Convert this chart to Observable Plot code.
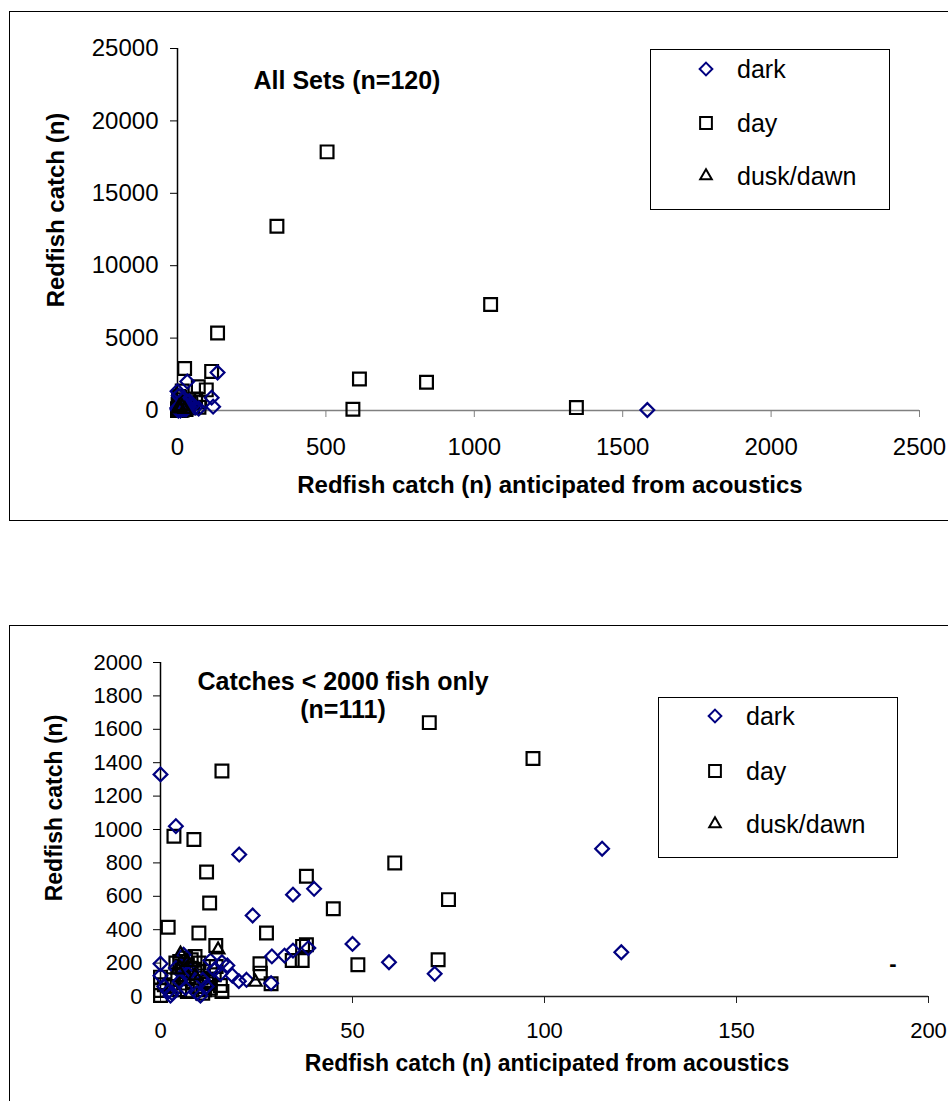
<!DOCTYPE html>
<html><head><meta charset="utf-8">
<script src="https://cdn.jsdelivr.net/npm/d3@7"></script>
<script src="https://cdn.jsdelivr.net/npm/@observablehq/plot@0.6"></script>
<style>
body{margin:0;width:948px;height:1101px;overflow:hidden;background:#fff;position:relative;font-family:"Liberation Sans",Arial,sans-serif;}
.frame{position:absolute;border:1.5px solid #000;box-sizing:border-box;}
.chart{position:absolute;left:0;}
.legend{position:absolute;border:1.2px solid #000;background:#fff;box-sizing:border-box;}
.legend .row{position:absolute;left:0;height:30px;line-height:30px;font-size:25px;color:#000;}
.legend .row svg{position:absolute;top:0;}
</style></head>
<body>
<div class="frame" style="left:9px;top:11px;width:980px;height:510px;"></div>
<div class="frame" style="left:9px;top:625px;width:980px;height:520px;"></div>
<div id="top" class="chart" style="top:0px;"></div>
<div id="bottom" class="chart" style="top:600px;"></div>
<script>
// ---- data: [anticipated from acoustics, catch] ----
const dark = [
  [0,1330],[4,1020],[20.5,850],[40,645],[34.5,610],[24,485],[38.5,290],[34.5,275],[32.3,245],[29,240],
  [17.4,186],[22.4,100],[20.4,92],[18.7,126],[0,196],[2.6,5],[28.8,80],[115,885],[50,315],[59.5,205],
  [71.4,136],[120,265],[1583,35],
  [0,125],[1,60],[2,30],[3,20],[4,170],[5,90],[6.5,50],[8,150],[9.5,20],[10.4,5],[11,100],[13,215],
  [16,205],[15.6,136],[12,60],[7,140],[14,160],[6,250],
  [135,2620],[33,2000]
];
const day = [
  [16,1350],[3.5,960],[8.7,940],[12,745],[38,720],[12.8,560],[45,525],[2,415],[10,380],[27.6,380],
  [14.4,305],[38,310],[37,300],[34.3,216],[36.9,216],[25.9,196],[26,140],[28.8,76],[0,6],[0,116],
  [70,1640],[97,1425],[61,800],[75,580],[51.4,190],[72.3,220],[591,80],[1344,200],[839,1950],
  [4,200],[5,210],[5.5,180],[6,150],[6.5,230],[7,190],[7.5,120],[8,170],[8.5,90],[9,140],
  [9.5,60],[10,200],[10.5,110],[11,150],[11.5,40],[12,90],[12.6,76],[13,180],[14,130],[15.6,66],
  [16,30],[3,100],[3.5,60],[4.5,130],[5,40],[6,80],[7,30],[8,220],[9,240],[0,36],
  [1,70],[11,20],[13,50],[14.5,180],[6,110],
  [504,17860],[335,12730],[1055,7320],[135,5350],[24,2900],[115,2700],[613,2180]
];
const dusk = [[15,280],[24.7,86],[5.2,255],[7,205],[4.5,160],[9,125]];

const seriesNames = ["dark","day","dusk/dawn"];
const topXTicks = [0,500,1000,1500,2000,2500];
const topYTicks = [0,5000,10000,15000,20000,25000];
const botXTicks = [0,50,100,150,200];
const botYTicks = [0,200,400,600,800,1000,1200,1400,1600,1800,2000];
const xTitle = "Redfish catch (n) anticipated from acoustics";
const yTitle = "Redfish catch (n)";
const topTitle = ["All Sets (n=120)"];
const botTitle = ["Catches < 2000 fish only","(n=111)"];

const styleOf = {
  "dark": {symbol:"diamond2", d3sym: d3.symbolDiamond2, stroke:"#000080", r:6.2},
  "day": {symbol:"square", d3sym: d3.symbolSquare, stroke:"#000", r:7.2},
  "dusk/dawn": {symbol:"triangle2", d3sym: d3.symbolTriangle2, stroke:"#000", r:6.0}
};
const toRows = (arr, s) => arr.map(([x,y]) => ({x, y, s}));
const rows = [...toRows(dark,"dark"), ...toRows(day,"day"), ...toRows(dusk,"dusk/dawn")];

function dots(data){
  return ["day","dark","dusk/dawn"].map(s => Plot.dot(data.filter(d => d.s === s), {
    x:"x", y:"y", symbol: styleOf[s].symbol, r: styleOf[s].r, stroke: styleOf[s].stroke,
    strokeWidth: 2.2, fill: "none"
  }));
}

function build(opts){
  const p = Plot.plot({
    width: 948, height: opts.height,
    marginLeft: opts.ml, marginRight: opts.mr, marginTop: opts.mt, marginBottom: opts.mb,
    style: {fontFamily: '"Liberation Sans", Arial, sans-serif', fontSize: opts.fs + "px", color: "#000", background: "transparent", overflow: "visible"},
    x: {domain: opts.xd, label: null},
    y: {domain: opts.yd, label: null},
    marks: [
      Plot.axisY({ticks: opts.yt, tickSize: 7, tickPadding: opts.ytp, tickFormat: d3.format("d"), label: null}),
      Plot.axisX({ticks: opts.xt, tickSize: 7, tickPadding: opts.xtp, tickFormat: d3.format("d"), label: null, stroke: opts.xAxisColor}),
      Plot.ruleY([0], {stroke: opts.xAxisColor, strokeWidth: 1.5}),
      Plot.ruleX([0], {stroke: "#000", strokeWidth: 1.5}),
      ...dots(opts.data)
    ]
  });
  const svg = d3.select(p);
  svg.append("text").attr("x", opts.xtx).attr("y", opts.xty).attr("text-anchor","middle")
    .attr("font-weight","bold").attr("font-size", opts.tfs).attr("fill","#000").text(xTitle);
  svg.append("text").attr("transform", `translate(${opts.ytx},${opts.yty}) rotate(-90)`).attr("text-anchor","middle")
    .attr("font-weight","bold").attr("font-size", opts.tfs).attr("fill","#000").text(yTitle);
  opts.title.forEach((t,i) => {
    svg.append("text").attr("x", opts.tx).attr("y", opts.ty[i]).attr("text-anchor","middle")
      .attr("font-weight","bold").attr("font-size", opts.hfs).attr("fill","#000").text(t);
  });
  return p;
}

function legend(container, left, top, rowsY, mx, tx){
  const box = document.createElement("div");
  box.className = "legend";
  box.style.cssText = `left:${left}px;top:${top}px;width:240px;height:161px;`;
  seriesNames.forEach((s,i) => {
    const row = document.createElement("div");
    row.className = "row";
    row.style.top = (rowsY[i] - 15) + "px";
    row.style.width = "238px";
    const st = styleOf[s];
    const sym = d3.symbol(st.d3sym, Math.PI * st.r * st.r * 0.85)();
    row.innerHTML = `<svg width="30" height="30" style="left:${mx-15}px"><path d="${sym}" transform="translate(15,15)" fill="none" stroke="${st.stroke}" stroke-width="2"/></svg><span style="position:absolute;left:${tx}px;white-space:nowrap">${s}</span>`;
    box.appendChild(row);
  });
  container.appendChild(box);
}

const topPlot = build({
  height: 530, ml: 177, mr: 29, mt: 48, mb: 120, fs: 24,
  xd: [0,2500], yd: [0,25000], xt: topXTicks, yt: topYTicks, ytp: 12, xtp: 20,
  xAxisColor: "#808080", data: rows,
  xtx: 550, xty: 493, ytx: 64, yty: 210, tfs: 24,
  title: topTitle, tx: 347, ty: [89], hfs: 25
});
document.getElementById("top").appendChild(topPlot);
legend(document.body, 650, 49, [19, 73, 126], 55, 86);

const botRows = rows.filter(d => d.y < 2000 && d.x <= 200);
const botPlot = build({
  height: 501, ml: 160, mr: 20, mt: 62, mb: 105, fs: 22,
  xd: [0,200], yd: [0,2000], xt: botXTicks, yt: botYTicks, ytp: 11, xtp: 19,
  xAxisColor: "#222", data: botRows,
  xtx: 547, xty: 471, ytx: 62, yty: 208, tfs: 23,
  title: botTitle, tx: 343, ty: [90, 118], hfs: 25
});
d3.select(botPlot).append("text").attr("x", 893).attr("y", 371).attr("text-anchor","middle")
  .attr("font-weight","bold").attr("font-size", 22).attr("fill","#000").text("-");
document.getElementById("bottom").appendChild(botPlot);
legend(document.body, 658, 697, [18, 73, 126], 56, 87);
</script>
</body></html>
